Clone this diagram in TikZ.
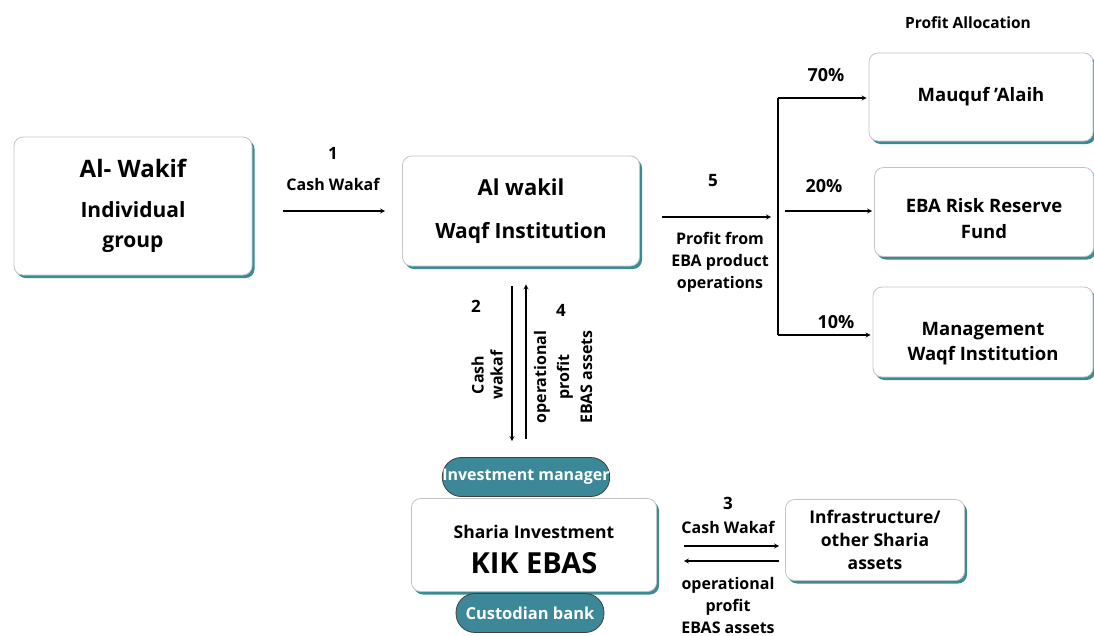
\documentclass[tikz,border=0pt]{standalone}
\usepackage{fontspec}
\setmainfont{Open Sans}
\usetikzlibrary{arrows,shadows}
\definecolor{tealshade}{RGB}{58,140,146}
\definecolor{pillteal}{RGB}{60,136,152}
\definecolor{boxline}{RGB}{195,195,195}
\newcommand{\fsz}[2]{\fontsize{#1}{#2}\selectfont\bfseries}

\begin{document}
\begin{tikzpicture}[x=1pt,y=-1pt,>=stealth,
    box/.style={draw=boxline, fill=white, rounded corners=9pt, line width=0.8pt, inner sep=0pt,
        align=center,
        drop shadow={shadow xshift=2.5pt, shadow yshift=-3pt, fill=tealshade, opacity=1}},
    pill/.style={draw=black!75, fill=pillteal, rounded corners=19pt, line width=0.8pt, inner sep=0pt,
        minimum height=39pt, text=white, font=\fsz{16}{18}},
    lbl/.style={align=center, font=\fsz{16}{22}},
    num/.style={font=\fsz{17}{20}},
    flow/.style={->, line width=1.2pt}]
    \useasboundingbox (0,0) rectangle (1094,635);

    % boxes
    \node[box, minimum width=238pt, minimum height=138pt, font=\fsz{21}{30}] (wakif) at (133,206)
        {{\fsz{24}{30}Al- Wakif}\\[10pt] Individual\\ group};
    \node[box, minimum width=237pt, minimum height=110pt, font=\fsz{21}{26}] (wakil) at (521,211)
        {{\fsz{22}{26}Al wakil}\\[17pt] Waqf Institution};
    \node[box, minimum width=224pt, minimum height=88pt, font=\fsz{18.5}{25}] (mauquf) at (981,97)
        {Mauquf {\char39}Alaih};
    \node[box, minimum width=219pt, minimum height=89pt, font=\fsz{18.5}{26}] (riskfund) at (984,212)
        {\rule{0pt}{28pt}EBA Risk Reserve\\ Fund};
    \node[box, minimum width=220pt, minimum height=90pt, font=\fsz{18.5}{25}] (mgmt) at (983,332)
        {\rule{0pt}{36pt}Management\\ Waqf Institution};
    \node[box, minimum width=245pt, minimum height=93pt, font=\fsz{17.5}{21}] (kik) at (534,545)
        {\rule{0pt}{22pt}Sharia Investment\\[13pt] {\fsz{29}{30}KIK EBAS}};
    \node[box, minimum width=179pt, minimum height=81pt, font=\fsz{17.5}{23}] (infra) at (875,540)
        {Infrastructure/\\ other Sharia\\ assets};

    % pills
    \node[pill, minimum width=155pt] (invman) at (526,477) {Investment manager};
    \node[pill, minimum width=148pt, font=\fsz{16.5}{18}] (custody) at (530,613) {Custodian bank};

    % 1
    \draw[flow, shorten <=31pt, shorten >=17pt] ([yshift=-5pt]wakif.east) -- (wakil.west);
    \node[num] (n1) at (333,153) {1};
    \node[lbl] (l1) at (333,184) {Cash Wakaf};

    % 2 and 4
    \draw[flow] ([xshift=-9pt,yshift=-20pt]wakil.south) -- ([xshift=-14pt,yshift=16pt]invman.north);
    \draw[flow] ([yshift=18pt]invman.north) -- ([xshift=5pt,yshift=-18pt]wakil.south);
    \node[num] (n2) at (476,306) {2};
    \node[num] (n4) at (561,310) {4};
    \node[lbl, rotate=90, font=\fsz{16}{19}] (l2) at (487,375) {Cash\\ wakaf};
    \node[lbl, rotate=90, font=\fsz{16}{23}] (l4) at (563,377) {operational\\ profit\\ EBAS assets};

    % 5
    \coordinate (fork) at (778,217);
    \coordinate (ftop) at (778,98);
    \coordinate (fbot) at (778,335);
    \draw[flow] ([xshift=22pt,yshift=-6pt]wakil.east) -- ([xshift=-7pt]fork);
    \node[num] (n5) at (713,181) {5};
    \node[lbl] (l5) at (720,262) {Profit from\\ EBA product\\ operations};
    \draw[line width=1.2pt] (ftop) -- (fbot);
    \draw[flow] (ftop) -- ([xshift=-2pt]mauquf.west |- ftop);
    \draw[flow] ([xshift=7pt,yshift=6pt]fork) -- ([xshift=-2pt,yshift=1pt]riskfund.west);
    \draw[flow] (fbot) -- ([xshift=-2pt]mgmt.west |- fbot);
    \node[num, font=\fsz{18}{20}] (p70) at (826,75) {70\%};
    \node[num, font=\fsz{18}{20}] (p20) at (824,186) {20\%};
    \node[num, font=\fsz{18}{20}] (p10) at (836,322) {10\%};
    \node[lbl, font=\fsz{15.5}{18}] (alloc) at (968,23) {Profit Allocation};

    % 3
    \draw[flow] ([xshift=27pt,yshift=-1pt]kik.east) -- ([xshift=-6pt,yshift=-6pt]infra.west);
    \draw[flow] ([xshift=-6pt,yshift=-21pt]infra.west) -- ([xshift=27pt,yshift=-16pt]kik.east);
    \node[num] (n3) at (728,503) {3};
    \node[lbl] (l3) at (728,527) {Cash Wakaf};
    \node[lbl] (l3b) at (728,605) {operational\\ profit\\ EBAS assets};
\end{tikzpicture}
\end{document}
